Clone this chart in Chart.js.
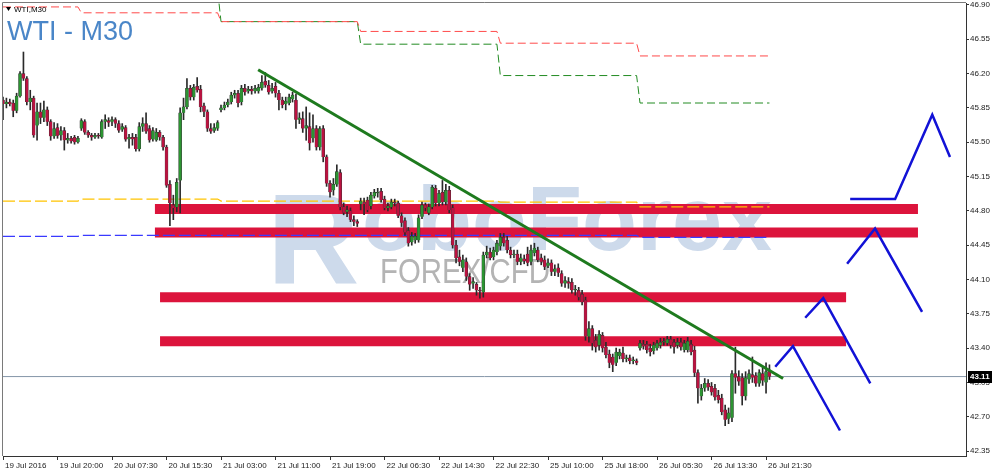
<!DOCTYPE html>
<html><head><meta charset="utf-8">
<script src="https://cdn.jsdelivr.net/npm/chart.js@4.4.1/dist/chart.umd.min.js"></script>
<style>html,body{margin:0;padding:0;background:#fff;}#wrap{width:1000px;height:475px;position:relative;}</style>
</head><body><div id="wrap"><canvas id="c"></canvas></div>
<script>
// ---- candle data (WTI M30), one entry per bar ----
const OPEN = [
45.93,45.89,45.91,45.90,45.82,45.97,46.20,46.15,45.91,45.95,
45.67,45.81,45.75,45.83,45.71,45.56,45.65,45.57,45.62,45.52,
45.54,45.55,45.50,45.64,45.71,45.60,45.57,45.55,45.57,45.55,
45.71,45.72,45.71,45.73,45.69,45.63,45.65,45.53,45.55,45.55,
45.43,45.66,45.69,45.64,45.53,45.52,45.60,45.55,45.45,45.07,
44.86,44.84,45.11,45.80,45.86,46.05,45.96,46.07,46.04,45.87,
45.81,45.64,45.62,45.64,45.83,45.85,45.88,45.91,45.98,46.00,
45.91,46.05,46.02,46.04,46.02,46.02,46.05,46.12,46.08,46.02,
46.07,46.00,45.93,45.89,45.90,45.94,45.93,45.73,45.74,45.64,
45.66,45.54,45.64,45.45,45.64,45.35,45.08,45.01,45.07,45.19,
44.84,44.79,44.80,44.71,44.69,44.87,44.89,44.91,44.85,44.95,
44.98,45.00,44.92,44.83,44.84,44.89,44.88,44.75,44.70,44.60,
44.48,44.50,44.50,44.74,44.86,44.78,44.84,45.03,44.88,44.99,
44.89,45.01,44.83,44.45,44.33,44.22,44.28,44.13,44.06,44.05,
43.99,43.97,44.35,44.38,44.33,44.38,44.44,44.53,44.50,44.40,
44.35,44.36,44.28,44.31,44.36,44.28,44.37,44.40,44.32,44.30,
44.24,44.27,44.18,44.22,44.16,44.06,44.08,44.07,43.99,43.99,
43.95,43.89,43.52,43.60,43.48,43.43,43.53,43.41,43.34,43.31,
43.25,43.32,43.35,43.29,43.30,43.27,43.27,43.40,43.44,43.44,
43.40,43.37,43.40,43.43,43.46,43.45,43.49,43.46,43.43,43.46,
43.38,43.38,43.44,43.38,43.15,42.91,42.99,43.04,43.01,42.99,
42.92,42.89,42.77,42.68,42.69,43.14,43.11,43.10,42.91,43.08,
43.13,43.12,43.04,43.14,43.05,43.17];
const HIGH = [
45.96,45.95,45.94,45.93,46.00,46.22,46.42,46.17,46.03,45.97,
45.90,45.90,45.92,45.86,45.73,45.70,45.69,45.66,45.65,45.59,
45.56,45.57,45.56,45.74,45.73,45.62,45.59,45.59,45.59,45.73,
45.78,45.75,45.76,45.75,45.72,45.69,45.67,45.58,45.59,45.58,
45.70,45.75,45.80,45.67,45.65,45.64,45.62,45.57,45.47,45.11,
44.96,45.13,45.85,45.95,46.15,46.08,46.09,46.16,46.08,45.90,
45.83,45.69,45.69,45.72,45.88,45.91,45.94,46.01,46.03,46.03,
46.08,46.09,46.07,46.07,46.08,46.09,46.18,46.21,46.13,46.10,
46.11,46.03,45.96,45.96,45.99,46.01,45.99,45.80,45.81,45.86,
45.80,45.78,45.67,45.66,45.67,45.37,45.11,45.13,45.27,45.22,
44.88,44.85,44.83,44.75,44.71,44.93,44.93,44.94,44.99,45.02,
45.03,45.03,44.95,44.88,44.92,44.92,44.90,44.78,44.73,44.63,
44.58,44.57,44.76,44.89,44.88,44.87,45.06,45.06,45.01,45.11,
45.07,45.05,44.86,44.50,44.40,44.35,44.32,44.16,44.12,44.07,
44.02,44.38,44.44,44.42,44.43,44.50,44.57,44.57,44.54,44.43,
44.40,44.40,44.36,44.35,44.43,44.45,44.47,44.43,44.36,44.34,
44.31,44.30,44.25,44.26,44.19,44.13,44.12,44.11,44.04,44.02,
43.99,43.92,43.67,43.63,43.54,43.58,43.56,43.46,43.38,43.34,
43.40,43.39,43.41,43.33,43.33,43.31,43.29,43.48,43.48,43.47,
43.44,43.46,43.48,43.50,43.50,43.52,43.52,43.49,43.50,43.50,
43.48,43.51,43.48,43.42,43.18,43.03,43.09,43.08,43.05,43.03,
42.97,42.93,42.82,42.79,43.17,43.41,43.17,43.14,43.16,43.18,
43.31,43.15,43.18,43.20,43.25,43.23];
const LOW = [
45.73,45.85,45.87,45.76,45.80,45.96,46.13,45.88,45.83,45.55,
45.52,45.69,45.71,45.67,45.52,45.54,45.54,45.52,45.42,45.49,
45.49,45.48,45.49,45.62,45.58,45.55,45.52,45.54,45.54,45.54,
45.64,45.66,45.67,45.65,45.60,45.61,45.51,45.44,45.47,45.41,
45.41,45.61,45.59,45.50,45.51,45.51,45.52,45.42,45.04,44.65,
44.71,44.79,44.78,45.73,45.84,45.93,45.93,46.01,45.81,45.76,
45.61,45.59,45.60,45.62,45.81,45.83,45.86,45.89,45.95,45.86,
45.88,45.98,46.00,45.99,46.00,46.00,46.03,46.06,45.99,46.00,
45.96,45.83,45.85,45.83,45.88,45.91,45.64,45.69,45.60,45.52,
45.42,45.50,45.42,45.42,45.30,45.05,44.94,44.96,45.05,44.81,
44.76,44.74,44.69,44.65,44.64,44.81,44.76,44.79,44.82,44.93,
44.94,44.89,44.81,44.80,44.82,44.85,44.73,44.64,44.55,44.44,
44.45,44.47,44.48,44.72,44.80,44.76,44.82,44.85,44.85,44.86,
44.86,44.78,44.42,44.27,44.24,44.18,44.09,43.99,44.01,43.94,
43.91,43.92,44.32,44.30,44.30,44.35,44.40,44.44,44.37,44.32,
44.32,44.25,44.25,44.26,44.24,44.25,44.34,44.28,44.25,44.20,
44.22,44.14,44.14,44.13,44.03,44.02,44.01,43.96,43.94,43.89,
43.84,43.48,43.46,43.38,43.36,43.38,43.36,43.30,43.20,43.16,
43.22,43.29,43.26,43.26,43.24,43.24,43.23,43.38,43.39,43.35,
43.32,43.34,43.38,43.40,43.43,43.43,43.40,43.35,43.40,43.38,
43.36,43.36,43.33,43.11,42.84,42.87,42.96,42.97,42.92,42.87,
42.84,42.72,42.61,42.63,42.65,42.94,43.02,42.82,42.87,43.04,
43.05,43.01,43.01,43.02,42.94,43.08];
const CLOSE = [
45.89,45.91,45.89,45.82,45.97,46.20,46.15,45.91,45.95,45.57,
45.81,45.75,45.83,45.71,45.56,45.64,45.57,45.62,45.52,45.54,
45.51,45.50,45.54,45.72,45.60,45.57,45.55,45.57,45.56,45.71,
45.73,45.70,45.73,45.69,45.62,45.66,45.53,45.55,45.53,45.43,
45.66,45.69,45.61,45.52,45.62,45.60,45.55,45.45,45.06,44.88,
44.83,45.09,45.80,45.86,46.05,45.96,46.06,46.03,45.86,45.81,
45.64,45.61,45.65,45.70,45.85,45.88,45.91,45.98,46.00,45.90,
46.05,46.01,46.04,46.02,46.05,46.06,46.11,46.08,46.01,46.05,
46.00,45.93,45.88,45.92,45.96,45.98,45.73,45.75,45.64,45.67,
45.49,45.64,45.45,45.64,45.35,45.08,44.99,45.07,45.20,44.84,
44.78,44.81,44.71,44.69,44.67,44.90,44.87,44.81,44.96,44.99,
44.99,44.91,44.83,44.85,44.89,44.88,44.75,44.68,44.58,44.47,
44.54,44.54,44.73,44.86,44.83,44.84,45.04,44.88,44.98,44.89,
45.01,44.81,44.45,44.32,44.28,44.30,44.13,44.05,44.08,43.99,
43.98,44.35,44.38,44.32,44.40,44.47,44.53,44.47,44.40,44.35,
44.36,44.28,44.32,44.29,44.27,44.40,44.42,44.30,44.28,44.23,
44.27,44.18,44.21,44.17,44.06,44.09,44.06,43.99,44.00,43.92,
43.87,43.52,43.60,43.45,43.41,43.54,43.40,43.33,43.25,43.23,
43.36,43.36,43.29,43.30,43.27,43.28,43.25,43.45,43.42,43.38,
43.36,43.43,43.45,43.46,43.47,43.49,43.43,43.41,43.46,43.41,
43.45,43.47,43.36,43.15,42.99,42.99,43.04,43.00,42.95,42.90,
42.87,42.75,42.67,42.74,43.14,43.10,43.06,42.91,43.10,43.14,
43.10,43.04,43.15,43.07,43.16,43.11];

// ---- axes ----
const X_TICK_BARS = [0,16,32,48,64,80,96,112,128,144,160,176,192,208,224];
const X_TICK_LABELS = ["19 Jul 2016","19 Jul 20:00","20 Jul 07:30","20 Jul 15:30","21 Jul 03:00","21 Jul 11:00","21 Jul 19:00","22 Jul 06:30","22 Jul 14:30","22 Jul 22:30","25 Jul 10:00","25 Jul 18:00","26 Jul 05:30","26 Jul 13:30","26 Jul 21:30"];
const Y_TICKS = [42.35,42.70,43.05,43.40,43.75,44.10,44.45,44.80,45.15,45.50,45.85,46.20,46.55,46.90];
const LAST_PRICE = 43.11;

// ---- daily indicator levels ----
const DAY_START = [0,23,64,105,146,187];
const LAST_BAR = 225;
const RED_LEVEL = [46.88,46.82,46.73,46.63,46.51,46.38];
const GREEN_LEVEL = [47.05,47.05,46.73,46.50,46.18,45.90];
const YELLOW_LEVEL = [44.90,44.92,44.90,44.90,44.89,44.84];
const BLUE_LEVEL = [44.54,44.55,44.55,44.55,44.55,44.53];

// ---- drawn analysis objects (bar index, price) ----
const TREND_LINE = [[74.9,46.24],[229.0,43.09]];
const ZONE_PRICE = [44.82,44.58,43.92,43.47];
const ZONE_FROM = [44.6,44.6,46.1,46.1];
const ZONE_TO = [268.6,268.6,247.5,247.5];
const ZIGZAG_1 = [[226.7,43.21],[231.9,43.42],[245.7,42.56]];
const ZIGZAG_2 = [[235.5,43.71],[240.8,43.91],[254.6,43.04]];
const ZIGZAG_3 = [[247.8,44.26],[256.0,44.62],[269.8,43.77]];
const ZIGZAG_4 = [[248.7,44.92],[261.9,44.92],[272.8,45.78],[278.0,45.35]];

const BULL = '#2c9432', BEAR = '#bb1240';
const FONT = 'Liberation Sans';

const idx = OPEN.map((_, i) => i);
const wickData = idx.map(i => ({x: i, y: [LOW[i], HIGH[i]]}));
const bodyData = idx.map(i => ({x: i, y: [OPEN[i], CLOSE[i]]}));
const bodyColors = idx.map(i => CLOSE[i] >= OPEN[i] ? BULL : BEAR);

function stepPoints(levels) {
  const pts = [];
  for (let d = 0; d < DAY_START.length; d++) {
    const s = DAY_START[d];
    const e = d + 1 < DAY_START.length ? DAY_START[d + 1] - 1 : LAST_BAR;
    pts.push({x: s, y: levels[d]}, {x: e, y: levels[d]});
  }
  return pts;
}
const pairs = arr => arr.map(p => ({x: p[0], y: p[1]}));
function lineDs(data, color, width, dash, order) {
  return {type: 'line', data, borderColor: color, borderWidth: width, borderDash: dash || [],
    pointRadius: 0, pointHoverRadius: 0, fill: false, tension: 0, order, borderCapStyle: 'butt'};
}

const datasets = [];
ZONE_PRICE.forEach((p, k) => {
  datasets.push(lineDs([{x: ZONE_FROM[k], y: p}, {x: ZONE_TO[k], y: p}], '#dc143c', 10, null, 20));
});
datasets.push(lineDs(stepPoints(RED_LEVEL), '#ff4a4a', 1, [8, 4], 12));
datasets.push(lineDs(stepPoints(GREEN_LEVEL), '#228b22', 1, [8, 4], 12));
datasets.push(lineDs(stepPoints(YELLOW_LEVEL), '#ffc400', 1.2, [12, 4], 12));
datasets.push(lineDs(stepPoints(BLUE_LEVEL), '#3a3aff', 1.2, [12, 4], 12));
datasets.push(lineDs([{x: 0, y: LAST_PRICE}, {x: 282.7, y: LAST_PRICE}], '#8596a8', 1, null, 11));
datasets.push({type: 'bar', data: wickData, backgroundColor: '#2a2a2a', barThickness: 1, grouped: false, order: 8});
datasets.push({type: 'bar', data: bodyData, backgroundColor: bodyColors, borderColor: '#333', borderWidth: 0.5,
  barThickness: 3, grouped: false, minBarLength: 1, order: 7});
datasets.push(lineDs(pairs(TREND_LINE), '#1e7a1e', 3, null, 3));
[ZIGZAG_1, ZIGZAG_2, ZIGZAG_3, ZIGZAG_4].forEach(z => datasets.push(lineDs(pairs(z), '#1212d6', 2.5, null, 1)));

const decor = {
  id: 'decor',
  beforeDatasetsDraw(chart) {
    const {ctx, chartArea: a} = chart;
    ctx.save();
    ctx.beginPath(); ctx.rect(a.left, a.top, a.right - a.left, a.bottom - a.top); ctx.clip();
    ctx.fillStyle = '#cddaeb';
    ctx.textBaseline = 'alphabetic';
    ctx.font = 'bold 128px "' + FONT + '"';
    ctx.fillText('R', 267, 284);
    ctx.font = 'bold 90px "' + FONT + '"';
    ctx.fillText('oboForex', 362, 250);
    ctx.fillStyle = '#b4b4b4';
    ctx.font = '35px "' + FONT + '"';
    ctx.scale(0.84, 1);
    ctx.fillText('FOREX/CFD', 380 / 0.84, 283);
    ctx.restore();
  },
  afterDatasetsDraw(chart) {
    const {ctx} = chart;
    ctx.save();
    ctx.fillStyle = '#4a86c8';
    ctx.font = '27px "' + FONT + '"';
    ctx.textBaseline = 'alphabetic';
    ctx.fillText('WTI - M30', 7, 40);
    ctx.fillStyle = '#000';
    ctx.beginPath(); ctx.moveTo(6, 7); ctx.lineTo(11, 7); ctx.lineTo(8.5, 11); ctx.closePath(); ctx.fill();
    ctx.font = '8px "' + FONT + '"';
    ctx.fillText('WTI,M30', 14, 12);
    ctx.restore();
  },
  afterDraw(chart) {
    const {ctx, chartArea: a} = chart;
    ctx.save();
    ctx.strokeStyle = '#7a7a7a'; ctx.lineWidth = 1;
    ctx.beginPath();
    ctx.moveTo(a.left - 0.5, a.bottom); ctx.lineTo(a.left - 0.5, a.top - 0.5); ctx.lineTo(a.right, a.top - 0.5);
    ctx.stroke();
    const y = chart.scales.y.getPixelForValue(LAST_PRICE);
    ctx.fillStyle = '#000';
    ctx.fillRect(a.right + 2, Math.round(y) - 6, 24, 12);
    ctx.fillStyle = '#fff';
    ctx.font = 'bold 8px "' + FONT + '"';
    ctx.textBaseline = 'middle';
    ctx.fillText(LAST_PRICE.toFixed(2), a.right + 4, Math.round(y));
    ctx.restore();
  }
};

new Chart(document.getElementById('c'), {
  type: 'bar',
  data: {datasets},
  plugins: [decor],
  options: {
    responsive: true, maintainAspectRatio: false, animation: false,
    events: [],
    layout: {padding: {left: 3, top: 3, right: 0, bottom: 0}},
    plugins: {legend: {display: false}, tooltip: {enabled: false}},
    scales: {
      x: {
        type: 'linear', min: 0, max: 282.7, offset: false,
        grid: {display: true, drawOnChartArea: false, drawTicks: true, tickLength: 4, color: '#333', offset: false},
        border: {display: true, color: '#333'},
        ticks: {autoSkip: false, maxRotation: 0, minRotation: 0, align: 'start', labelOffset: 2, padding: 1,
          font: {family: FONT, size: 8}, color: '#222',
          callback: v => { const k = X_TICK_BARS.indexOf(v); return k >= 0 ? X_TICK_LABELS[k] : ''; }},
        afterBuildTicks: s => { s.ticks = X_TICK_BARS.map(v => ({value: v})); },
        afterFit: s => { s.height = 19; s.paddingLeft = 0; s.paddingRight = 0; }
      },
      y: {
        type: 'linear', position: 'right', min: 42.30, max: 46.92,
        grid: {display: true, drawOnChartArea: false, drawTicks: true, tickLength: 3, color: '#333'},
        border: {display: true, color: '#333'},
        ticks: {autoSkip: false, padding: 1, font: {family: FONT, size: 8}, color: '#222',
          callback: v => Number(v).toFixed(2)},
        afterBuildTicks: s => { s.ticks = Y_TICKS.map(v => ({value: v})); },
        afterFit: s => { s.width = 34; s.paddingTop = 0; s.paddingBottom = 0; }
      }
    }
  }
});
</script></body></html>
